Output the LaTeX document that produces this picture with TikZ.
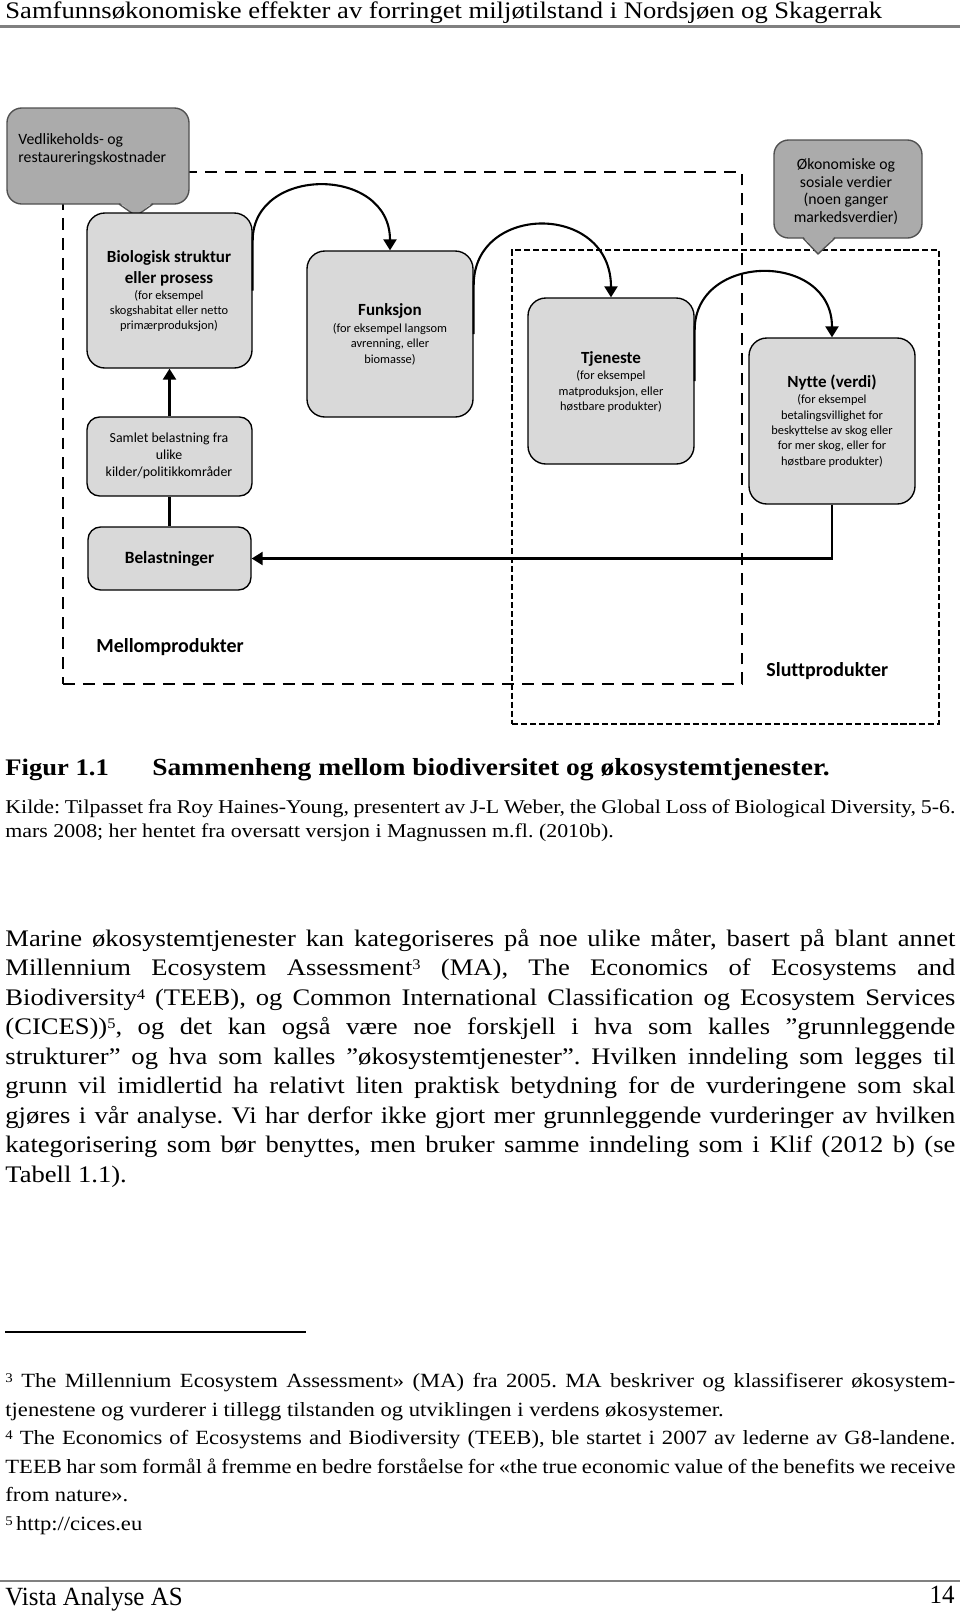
\documentclass[tikz,border=0pt]{standalone}
\usepackage{fontspec}
\setmainfont{Liberation Serif}[FakeStretch=1.12]
\newfontfamily\condfont{Liberation Serif}[FakeStretch=0.95]
\newfontfamily\calfont{Carlito}[Ligatures=NoCommon]
\usetikzlibrary{fit,arrows.meta}
\newlength\pxl \setlength\pxl{0.476pt}
\definecolor{boxgray}{HTML}{D9D9D9}
\definecolor{callgray}{HTML}{ABABAB}
\definecolor{callborder}{HTML}{505050}
\definecolor{rulegray}{HTML}{808080}
\newcommand\jline[1]{\makebox[950\pxl][s]{#1}}
\newcommand\bodyfont{\fontsize{11.3}{13.5}\selectfont}
\newcommand\notefont{\fontsize{9.6}{11}\selectfont}
\newcommand\kildefont{\fontsize{9.3}{11}\selectfont}
\newcommand\supnum[1]{\raisebox{0.55ex}{\fontsize{7}{7}\selectfont #1}}
\newcommand\fnnum[1]{\raisebox{0.5ex}{\fontsize{6.3}{6.3}\selectfont #1}}
\frenchspacing
\begin{document}
\begin{tikzpicture}[x=0.476pt,y=-0.476pt,
  box/.style={draw=black, line width=0.65pt, fill=boxgray, rounded corners=8.5pt, inner sep=0pt},
  smallbox/.style={box, rounded corners=6pt},
  callout/.style={draw=callborder, line width=0.65pt, fill=callgray, rounded corners=7pt, inner sep=0pt},
  ttl/.style={font=\calfont\bfseries\fontsize{8.1}{10}\selectfont, align=center, inner sep=0pt},
  dsc/.style={font=\calfont\fontsize{5.9}{7.3}\selectfont, align=center, inner sep=0pt},
  flow/.style={line width=1pt, -{Triangle[length=5.2pt,width=6.2pt]}},
  midbox/.style={draw, dash pattern=on 5.7pt off 3.8pt, line width=0.95pt, inner sep=0pt},
  finbox/.style={draw, dash pattern=on 2.9pt off 1.4pt, line width=0.9pt, inner sep=0pt},
  grouplabel/.style={font=\calfont\bfseries\fontsize{9.5}{11}\selectfont, anchor=west, inner sep=0pt},
  txt/.style={inner sep=0pt, anchor=base west}]
\fill[white] (0,0) rectangle (960,1613);
\useasboundingbox (0,0) rectangle (960,1613);

% header
\node[txt, font=\bodyfont] (hdr) at (5,18.5) {Samfunnsøkonomiske effekter av forringet miljøtilstand i Nordsjøen og Skagerrak};
\draw[rulegray, line width=1pt] (0,26.5) -- (960,26.5);

% dashed groups
\node[midbox, fit={(63,172)(742,684)}] (mellom) {};
\node[finbox, fit={(512,250)(939,724)}] (slutt) {};

% callouts
\node[callout, fit={(7,108)(189,204)}] (vedbox) {};
\fill[callgray] (119,202) -- (136,216) -- (153,202) -- cycle;
\draw[draw=callborder, line width=0.65pt] (119,204) -- (136,216) -- (153,204);
\node[font=\calfont\fontsize{7.5}{8.6}\selectfont, align=left, anchor=west, inner sep=0pt] (ved) at (18,149) {Vedlikeholds- og\\restaureringskostnader};

\node[callout, fit={(774,140)(922,238)}] (okobox) {};
\fill[callgray] (803,236) -- (818,254) -- (835,236) -- cycle;
\draw[draw=callborder, line width=0.65pt] (803,238) -- (818,254) -- (835,238);
\node[font=\calfont\fontsize{7.5}{8.4}\selectfont, align=center, inner sep=0pt] (oko) at (846,191.5) {Økonomiske og\\sosiale verdier\\(noen ganger\\markedsverdier)};

% boxes
\node[box, fit={(87,213)(252,368)}] (bio) {};
\node[box, fit={(307,251)(473,417)}] (fun) {};
\node[box, fit={(528,298)(694,464)}] (tje) {};
\node[box, fit={(749,338)(915,504)}] (nyt) {};
\node[smallbox, fit={(87,417)(252,496)}] (sam) {};
\node[smallbox, fit={(88,527)(251,590)}] (bel) {};

\node[ttl] (biot) at (169,268.5) {Biologisk struktur\\eller prosess};
\node[dsc] (biod) at (169,311) {(for eksempel\\skogshabitat eller netto\\primærproduksjon)};
\node[ttl] (funt) at (390,311) {Funksjon};
\node[dsc] (fund) at (390,344) {(for eksempel langsom\\avrenning, eller\\biomasse)};
\node[ttl] (tjet) at (611,359) {Tjeneste};
\node[dsc] (tjed) at (611,391.5) {(for eksempel\\matproduksjon, eller\\høstbare produkter)};
\node[ttl] (nytt) at (832,383) {Nytte (verdi)};
\node[dsc] (nytd) at (832,431) {(for eksempel\\betalingsvillighet for\\beskyttelse av skog eller\\for mer skog, eller for\\høstbare produkter)};
\node[font=\calfont\fontsize{6.6}{8.1}\selectfont, align=center, inner sep=0pt] (samt) at (169,456) {Samlet belastning fra\\ulike\\kilder/politikkområder};
\node[font=\calfont\bfseries\fontsize{8.2}{9}\selectfont, inner sep=0pt] (belt) at (169.5,558.5) {Belastninger};
\node[grouplabel] (mel) at (96,647) {Mellomprodukter};
\node[grouplabel] (slu) at (766,671) {Sluttprodukter};

% connectors
\draw[flow] (bio.east) -- ++(0,-50) .. controls +(0,-75) and +(0,-85) .. (fun.north);
\draw[flow] (fun.east) -- ++(0,-49) .. controls +(0,-82) and +(0,-95) .. (tje.north);
\draw[flow] (tje.east) -- ++(0,-51) .. controls +(0,-78) and +(0,-86) .. (nyt.north);
\draw[flow] (sam.north) -- (bio.south);
\draw[line width=1pt] (bel.north) -- (sam.south);
\draw[flow] (nyt.south) |- (bel.east);

% caption
\node[txt, font=\bodyfont\bfseries] (fig) at (5,775) {Figur 1.1};
\node[txt, font=\fontsize{11.7}{13.5}\selectfont\bfseries] (cap) at (152,775) {Sammenheng mellom biodiversitet og økosystemtjenester.};
\node[txt, font=\kildefont] (k1) at (5,813) {\jline{Kilde: Tilpasset fra Roy Haines-Young, presentert av J-L Weber, the Global Loss of Biological Diversity, 5-6.}};
\node[txt, font=\kildefont] (k2) at (5,837) {mars 2008; her hentet fra oversatt versjon i Magnussen m.fl. (2010b).};

% body
\node[txt, font=\bodyfont] (b1) at (5,946) {\jline{Marine økosystemtjenester kan kategoriseres på noe ulike måter, basert på blant annet}};
\node[txt, font=\bodyfont] (b2) at (5,975.5) {\jline{Millennium Ecosystem Assessment\supnum{3} (MA), The Economics of Ecosystems and}};
\node[txt, font=\bodyfont] (b3) at (5,1005) {\jline{Biodiversity\supnum{4} (TEEB), og Common International Classification og Ecosystem Services}};
\node[txt, font=\bodyfont] (b4) at (5,1034.5) {\jline{(CICES))\supnum{5}, og det kan også være noe forskjell i hva som kalles ”grunnleggende}};
\node[txt, font=\bodyfont] (b5) at (5,1064) {\jline{strukturer” og hva som kalles ”økosystemtjenester”. Hvilken inndeling som legges til}};
\node[txt, font=\bodyfont] (b6) at (5,1093.5) {\jline{grunn vil imidlertid ha relativt liten praktisk betydning for de vurderingene som skal}};
\node[txt, font=\bodyfont] (b7) at (5,1123) {\jline{gjøres i vår analyse. Vi har derfor ikke gjort mer grunnleggende vurderinger av hvilken}};
\node[txt, font=\bodyfont] (b8) at (5,1152.5) {\jline{kategorisering som bør benyttes, men bruker samme inndeling som i Klif (2012 b) (se}};
\node[txt, font=\bodyfont] (b9) at (5,1182) {Tabell 1.1).};

% footnotes
\draw[line width=0.75pt] (5,1332) -- (306,1332);
\node[txt, font=\notefont] (f1) at (5,1387) {\jline{\fnnum{3} The Millennium Ecosystem Assessment» (MA) fra 2005. MA beskriver og klassifiserer økosystem-}};
\node[txt, font=\notefont] (f2) at (5,1416) {tjenestene og vurderer i tillegg tilstanden og utviklingen i verdens økosystemer.};
\node[txt, font=\notefont] (f3) at (5,1444.5) {\jline{\fnnum{4} The Economics of Ecosystems and Biodiversity (TEEB), ble startet i 2007 av lederne av G8-landene.}};
\node[txt, font=\notefont] (f4) at (5,1473) {\jline{TEEB har som formål å fremme en bedre forståelse for «the true economic value of the benefits we receive}};
\node[txt, font=\notefont] (f5) at (5,1501.5) {from nature».};
\node[txt, font=\notefont] (f6) at (5,1530) {\fnnum{5}\,http://cices.eu};

% footer
\draw[rulegray, line width=0.75pt] (0,1581) -- (960,1581);
\node[txt, font=\condfont\fontsize{12.5}{14}\selectfont] (ft) at (5,1605) {Vista Analyse AS};
\node[inner sep=0pt, anchor=base east, font=\condfont\fontsize{12.5}{14}\selectfont] (pg) at (955,1603) {14};
\end{tikzpicture}
\end{document}
